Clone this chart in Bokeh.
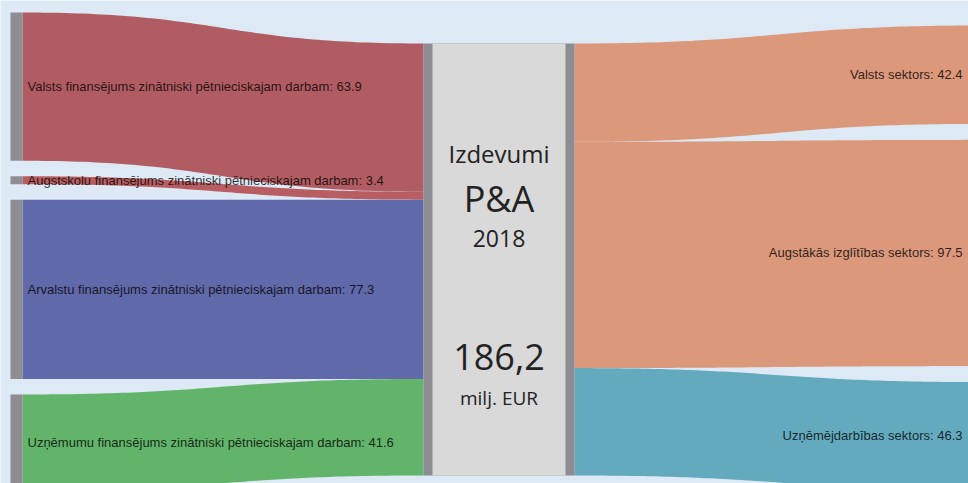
import numpy as np
from bokeh.plotting import figure
from bokeh.models import Range1d
from bokeh.core.properties import value
from bokeh.embed import file_html
from bokeh.resources import INLINE

# ---------------- data ----------------
left_names = [
    "Valsts finansējums zinātniski pētnieciskajam darbam",
    "Augstskolu finansējums zinātniski pētnieciskajam darbam",
    "Arvalstu finansējums zinātniski pētnieciskajam darbam",
    "Uzņēmumu finansējums zinātniski pētnieciskajam darbam",
]
left_values = [63.9, 3.4, 77.3, 41.6]
left_colors = ["#b15c62", "#b85e62", "#6069aa", "#63b46b"]

right_names = [
    "Valsts sektors",
    "Augstākās izglītības sektors",
    "Uzņēmējdarbības sektors",
]
right_values = [42.4, 97.5, 46.3]
right_colors = ["#db987b", "#db987b", "#64aabf"]

center_lines = ["Izdevumi", "P&A", "2018", "186,2", "milj. EUR"]
center_sizes = ["24px", "36px", "23px", "36px", "19px"]
center_offsets = [110, 155, 195, 313, 354]   # px below node top

# ---------------- layout ----------------
K = 2.32                 # px per unit
BG = "#dde9f5"
left_top, left_gap = 12, 15.5
right_top, right_gap = 25, 16
center_top = 43
xl0, xl1 = 10, 22        # left node strip
xc0, xc1, xc2, xc3 = 423, 432, 565, 574   # center node
xr = 980                 # right nodes (off the edge)
W, H = 968, 483


def band(x0, x1, y0a, y0b, y1a, y1b, n=80):
    t = np.linspace(0, 1, n)
    xm = (x0 + x1) / 2
    bx = (1 - t) ** 3 * x0 + 3 * (1 - t) ** 2 * t * xm + 3 * (1 - t) * t ** 2 * xm + t ** 3 * x1
    s = 3 * t ** 2 - 2 * t ** 3
    top = y0a + (y1a - y0a) * s
    bot = y0b + (y1b - y0b) * s
    return list(np.concatenate([bx, bx[::-1]])), list(np.concatenate([top, bot[::-1]]))


p = figure(width=W, height=H, output_backend="svg", toolbar_location=None,
           x_range=Range1d(0, W), y_range=Range1d(H, 0),
           min_border=0, background_fill_color=BG, border_fill_color=BG,
           outline_line_color=None)
p.axis.visible = False
p.grid.visible = False

# left nodes + links
lx, ly, lc, lab_x, lab_y, lab_t = [], [], [], [], [], []
ny = left_top
cy = center_top
nodes_l = dict(top=[], bottom=[])
for name, v, c in zip(left_names, left_values, left_colors):
    h = v * K
    xs, ys = band(xl1, xc0, ny, ny + h, cy, cy + h)
    lx.append(xs); ly.append(ys); lc.append(c)
    nodes_l["top"].append(ny); nodes_l["bottom"].append(ny + h)
    lab_x.append(xl1 + 5); lab_y.append(ny + h / 2); lab_t.append(f"{name}: {v}")
    ny += h + left_gap
    cy += h

# right links
rx, ry, rc, rlab_x, rlab_y, rlab_t = [], [], [], [], [], []
ny = right_top
cy = center_top
for name, v, c in zip(right_names, right_values, right_colors):
    h = v * K
    xs, ys = band(xc3, xr, cy, cy + h, ny, ny + h)
    rx.append(xs); ry.append(ys); rc.append(c)
    rlab_x.append(962); rlab_y.append(ny + h / 2); rlab_t.append(f"{name}: {v}")
    ny += h + right_gap
    cy += h

p.patches(xs=lx + rx, ys=ly + ry, fill_color=lc + rc, line_color=None)

# left node strips
p.quad(left=xl0, right=xl1, top=nodes_l["top"], bottom=nodes_l["bottom"],
       fill_color="#8e8e92", line_color=None)

# center node
total = sum(left_values)
p.quad(left=xc0, right=xc3, top=center_top, bottom=center_top + total * K,
       fill_color="#8c8c92", line_color=None)
p.quad(left=xc1, right=xc2, top=center_top, bottom=center_top + total * K,
       fill_color="#d9d9d9", line_color=None)

# labels
p.text(x=lab_x, y=lab_y, text=lab_t, text_font=value("Liberation Sans"),
       text_font_size="13px", text_color="#000000", text_alpha=0.8,
       text_baseline="middle", text_align="left")
p.text(x=rlab_x, y=rlab_y, text=rlab_t, text_font=value("Liberation Sans"),
       text_font_size="13px", text_color="#000000", text_alpha=0.8,
       text_baseline="middle", text_align="right")

cx = (xc1 + xc2) / 2
for t, fs, off in zip(center_lines, center_sizes, center_offsets):
    p.text(x=[cx], y=[center_top + off], text=[t], text_font=value("Open Sans"),
           text_font_size=fs, text_color="#222222", text_baseline="middle",
           text_align="center")

open("out.html", "w").write(file_html(p, INLINE))
